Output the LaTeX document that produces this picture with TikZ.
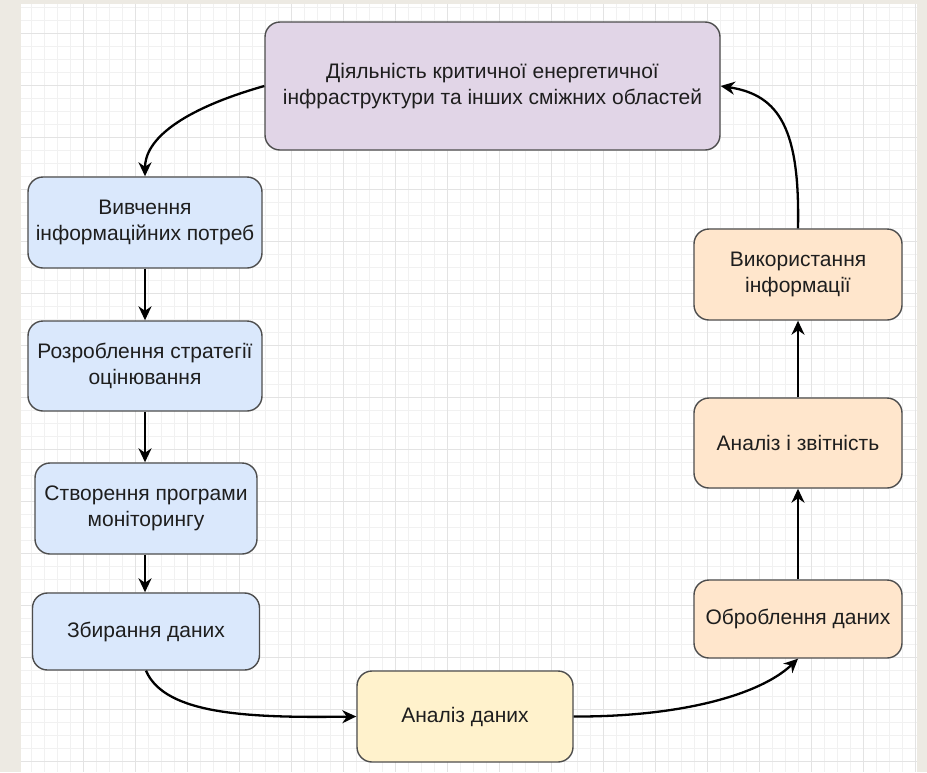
\documentclass[tikz,border=0pt]{standalone}
\usepackage{fontspec}
\setmainfont{Liberation Sans}
\usetikzlibrary{arrows.meta}
\definecolor{pagebg}{HTML}{EDEAE3}
\definecolor{gridminor}{HTML}{F1F1F1}
\definecolor{gridmajor}{HTML}{E3E3E3}
\definecolor{boxline}{HTML}{4D4D4D}
\definecolor{textcol}{HTML}{1E1E1E}
\definecolor{purplefill}{HTML}{E1D5E7}
\definecolor{bluefill}{HTML}{DAE8FC}
\definecolor{yellowfill}{HTML}{FFF2CC}
\definecolor{orangefill}{HTML}{FFE6CC}
\tikzset{
  stagebox/.style={draw=boxline, line width=1.4pt, rounded corners=15pt,
    align=center, text=textcol, font=\fontsize{21}{26}\selectfont,
    inner sep=0pt},
  flow/.style={line width=2.3pt, -{Stealth[length=14pt,width=13pt,inset=4.5pt]}}
}
\begin{document}
\begin{tikzpicture}[x=1pt,y=-1pt]
  \useasboundingbox (0,0) rectangle (927,772);
  \fill[pagebg] (0,0) rectangle (927,772);
  \fill[white] (21,4) rectangle (917,772);
  % grid
  \begin{scope}
    \clip (21,4) rectangle (917,772);
    \foreach \gx in {31,44,...,915} \draw[gridminor, line width=0.8pt] (\gx,4) -- (\gx,772);
    \foreach \gy in {7,20,...,770} \draw[gridminor, line width=0.8pt] (21,\gy) -- (917,\gy);
    \foreach \gx in {83,135,...,915} \draw[gridmajor, line width=0.9pt] (\gx,4) -- (\gx,772);
    \foreach \gy in {33,85,...,770} \draw[gridmajor, line width=0.9pt] (21,\gy) -- (917,\gy);
  \end{scope}
  % boxes
  \node[stagebox, fill=purplefill, minimum width=455pt, minimum height=128pt]
    (activity) at (492.5,86) {Діяльність критичної енергетичної\\інфраструктури та інших сміжних областей};
  \node[stagebox, fill=bluefill, minimum width=234pt, minimum height=91pt]
    (needs) at (145,222.5) {Вивчення\\інформаційних потреб};
  \node[stagebox, fill=bluefill, minimum width=234pt, minimum height=90pt]
    (strategy) at (145,366) {Розроблення стратегії\\оцінювання};
  \node[stagebox, fill=bluefill, minimum width=222pt, minimum height=91pt]
    (program) at (146,508.5) {Створення програми\\моніторингу};
  \node[stagebox, fill=bluefill, minimum width=227pt, minimum height=77pt]
    (collect) at (146,631.5) {Збирання даних};
  \node[stagebox, fill=yellowfill, minimum width=216pt, minimum height=91pt]
    (analysis) at (465,716.5) {Аналіз даних};
  \node[stagebox, fill=orangefill, minimum width=208pt, minimum height=78pt]
    (process) at (798,619) {Оброблення даних};
  \node[stagebox, fill=orangefill, minimum width=208pt, minimum height=90pt]
    (report) at (798,443) {Аналіз і звітність};
  \node[stagebox, fill=orangefill, minimum width=208pt, minimum height=91pt]
    (usage) at (798,274.5) {Використання\\інформації};
  % connectors
  \draw[flow] (activity.west) .. controls (180,110) and (145,140) .. (needs.north);
  \draw[flow] (needs.south) -- (strategy.north);
  \draw[flow] (strategy.south) -- (strategy.south |- program.north);
  \draw[flow] (strategy.south |- program.south) -- (strategy.south |- collect.north);
  \draw[flow] (collect.south) .. controls (165,715) and (250,718) .. (analysis.west);
  \draw[flow] (analysis.east) .. controls (680,717) and (760,695) .. (process.south);
  \draw[flow] (process.north) -- (report.south);
  \draw[flow] (report.north) -- (usage.south);
  \draw[flow] (usage.north) .. controls (800,130) and (780,95) .. (activity.east);
\end{tikzpicture}
\end{document}
